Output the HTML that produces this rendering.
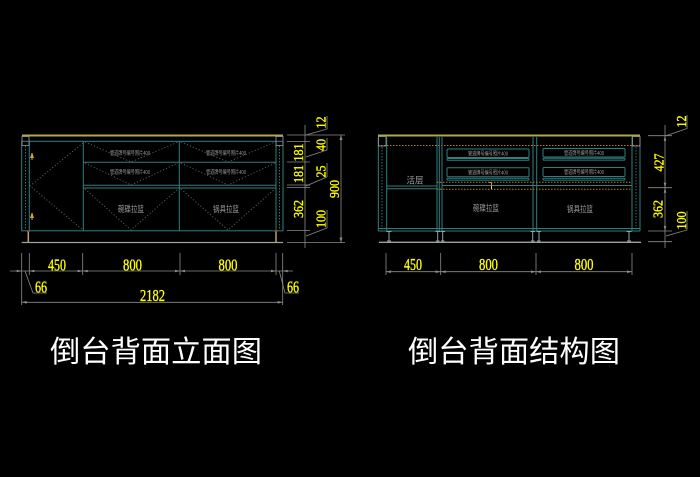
<!DOCTYPE html>
<html><head><meta charset="utf-8">
<style>
html,body{margin:0;padding:0;background:#000;}
svg{display:block;}
.t{stroke:#2f7f7f;stroke-width:1;fill:none;}
.d{stroke:#8c8c8c;stroke-width:0.8;fill:none;}
.dot{stroke:#5a5a5a;stroke-width:1;stroke-dasharray:1.2 2;fill:none;}
.or{stroke:#b07a30;stroke-width:1;stroke-dasharray:1.5 1.5;fill:none;}
.dim{font-family:"Liberation Serif",serif;fill:#ffff00;stroke:#ffff00;stroke-width:0.35;}
.lbl{font-family:"Liberation Sans","Noto Sans CJK SC",sans-serif;fill:#9a9a9a;}
.ttl{font-family:"Liberation Sans","Noto Sans CJK SC",sans-serif;fill:#fff;font-size:30px;}
</style></head>
<body>
<svg width="700" height="477" viewBox="0 0 700 477" xmlns="http://www.w3.org/2000/svg">
<rect width="700" height="477" fill="#000"/>

<!-- ================= LEFT DRAWING ================= -->
<line x1="22" y1="135.5" x2="283" y2="135.5" stroke="#b0a850" stroke-width="2"/>
<rect class="t" x="21.7" y="141.3" width="261.3" height="89.5"/>
<line class="t" x1="29.3" y1="141.3" x2="29.3" y2="230.8"/>
<line class="t" x1="276" y1="141.3" x2="276" y2="230.8"/>
<line x1="25.5" y1="146" x2="25.5" y2="230" stroke="#2f6f6f" stroke-dasharray="1.5 1.5"/>
<line x1="279.5" y1="146" x2="279.5" y2="230" stroke="#2f6f6f" stroke-dasharray="1.5 1.5"/>
<line class="t" x1="83.3" y1="141.3" x2="83.3" y2="230.8"/>
<line class="t" x1="179.3" y1="141.3" x2="179.3" y2="230.8"/>
<line class="t" x1="83.3" y1="162.3" x2="276" y2="162.3"/>
<line class="t" x1="83.3" y1="185.3" x2="276" y2="185.3"/>
<line class="t" x1="83.3" y1="188" x2="276" y2="188"/>
<rect x="22" y="136.5" width="7" height="9" fill="none" stroke="#999" stroke-width="0.8"/>
<rect x="276" y="136.5" width="7" height="9" fill="none" stroke="#999" stroke-width="0.8"/>
<polyline class="dot" points="83,143 30,186 83,230"/>
<polyline class="dot" points="85,142 131,162 178,142"/>
<polyline class="dot" points="181,142 228,162 275,142"/>
<polyline class="dot" points="85,163 131,185 178,163"/>
<polyline class="dot" points="181,163 228,185 275,163"/>
<polyline class="dot" points="85,189 131,230 178,189"/>
<polyline class="dot" points="181,189 228,230 275,189"/>
<path d="M30,158 L34,158 L33,155 L32.5,153 L31.5,153 L31,155 Z M31.5,158 L31.5,160 L32.5,160 L32.5,158" fill="#d0a820"/>
<path d="M30,218 L34,218 L33,215 L32.5,213 L31.5,213 L31,215 Z M31.5,218 L31.5,220 L32.5,220 L32.5,218" fill="#d0a820"/>
<text class="lbl" x="130" y="155" font-size="5.5" text-anchor="middle" textLength="40" lengthAdjust="spacingAndGlyphs">管道牌号编号照片400</text>
<text class="lbl" x="226" y="155" font-size="5.5" text-anchor="middle" textLength="40" lengthAdjust="spacingAndGlyphs">管道牌号编号照片400</text>
<text class="lbl" x="130" y="174" font-size="5.5" text-anchor="middle" textLength="40" lengthAdjust="spacingAndGlyphs">管道牌号编号照片400</text>
<text class="lbl" x="226" y="174" font-size="5.5" text-anchor="middle" textLength="40" lengthAdjust="spacingAndGlyphs">管道牌号编号照片400</text>
<text class="lbl" x="131" y="212" font-size="8.5" text-anchor="middle" textLength="26" lengthAdjust="spacingAndGlyphs" fill="#ddd">碗碟拉篮</text>
<text class="lbl" x="226" y="212" font-size="8.5" text-anchor="middle" textLength="26" lengthAdjust="spacingAndGlyphs" fill="#ddd">锅具拉篮</text>
<line x1="28.3" y1="231" x2="28.3" y2="242" stroke="#c8a060" stroke-width="1.5"/>
<line x1="27" y1="231.5" x2="29.5" y2="231.5" stroke="#d04020" stroke-width="1.5"/>
<line x1="276" y1="231" x2="276" y2="242" stroke="#c8a060" stroke-width="1.5"/>
<line x1="274.7" y1="231.5" x2="277.3" y2="231.5" stroke="#d04020" stroke-width="1.5"/>
<line x1="21.7" y1="242.5" x2="283" y2="242.5" stroke="#a0a0a0" stroke-width="1.3"/>

<line class="d" x1="305" y1="125" x2="305" y2="248"/>
<g class="d">
<line x1="287" y1="135" x2="345" y2="135"/>
<line x1="287" y1="141.5" x2="310" y2="141.5"/>
<line x1="287" y1="162" x2="310" y2="162"/>
<line x1="287" y1="185" x2="310" y2="185"/>
<line x1="287" y1="187.5" x2="310" y2="187.5"/>
<line x1="287" y1="230.5" x2="310" y2="230.5"/>
<line x1="287" y1="242.5" x2="345" y2="242.5"/>
<line x1="341" y1="135" x2="341" y2="242.5"/>
<polyline points="306,135 327,129 327,116"/>
<polyline points="306,157 327,150 327,138"/>
<polyline points="306,186 327,177 327,163"/>
<polyline points="306,236 327,228 327,210"/>
</g>
<g fill="#8c8c8c">
<path d="M341,135 l-1.5,5 h3 z"/><path d="M341,242.5 l-1.5,-5 h3 z"/>
</g>
<g class="dim" font-size="14" text-anchor="middle">
<text transform="translate(325.5,122.5) rotate(-90)" textLength="12" lengthAdjust="spacingAndGlyphs">12</text>
<text transform="translate(325.5,145) rotate(-90)" textLength="12" lengthAdjust="spacingAndGlyphs">40</text>
<text transform="translate(303,152.5) rotate(-90)" textLength="18" lengthAdjust="spacingAndGlyphs">181</text>
<text transform="translate(303,174) rotate(-90)" textLength="18" lengthAdjust="spacingAndGlyphs">181</text>
<text transform="translate(325.5,171.5) rotate(-90)" textLength="12" lengthAdjust="spacingAndGlyphs">25</text>
<text transform="translate(303,209) rotate(-90)" textLength="18" lengthAdjust="spacingAndGlyphs">362</text>
<text transform="translate(325.5,219) rotate(-90)" textLength="18" lengthAdjust="spacingAndGlyphs">100</text>
<text transform="translate(339,189) rotate(-90)" textLength="18" lengthAdjust="spacingAndGlyphs">900</text>
</g>

<g class="d">
<line x1="10" y1="271" x2="293" y2="271"/>
<line x1="21.7" y1="253" x2="21.7" y2="305"/>
<line x1="29.3" y1="253" x2="29.3" y2="275"/>
<line x1="82.7" y1="253" x2="82.7" y2="275"/>
<line x1="180" y1="253" x2="180" y2="275"/>
<line x1="276" y1="253" x2="276" y2="275"/>
<line x1="282.7" y1="253" x2="282.7" y2="305"/>
<line x1="21.7" y1="302.3" x2="282.7" y2="302.3"/>
<polyline points="25,271 33,293 47,293"/>
<polyline points="279.3,271 285,293 299,293"/>
</g>
<g fill="#8c8c8c">
<path d="M29.3,271 l5,-1.3 v2.6 z"/><path d="M82.7,271 l-5,-1.3 v2.6 z"/>
<path d="M82.7,271 l5,-1.3 v2.6 z"/><path d="M180,271 l-5,-1.3 v2.6 z"/>
<path d="M180,271 l5,-1.3 v2.6 z"/><path d="M276,271 l-5,-1.3 v2.6 z"/>
<path d="M21.7,302.3 l5,-1.3 v2.6 z"/><path d="M282.7,302.3 l-5,-1.3 v2.6 z"/>
<path d="M21.7,271 l-5,-1.3 v2.6 z"/><path d="M282.7,271 l5,-1.3 v2.6 z"/>
</g>
<g class="dim" font-size="17" text-anchor="middle">
<text x="57" y="270.5" textLength="18" lengthAdjust="spacingAndGlyphs">450</text>
<text x="132.5" y="270.5" textLength="19" lengthAdjust="spacingAndGlyphs">800</text>
<text x="228" y="270.5" textLength="19" lengthAdjust="spacingAndGlyphs">800</text>
<text x="41" y="292.5" textLength="12" lengthAdjust="spacingAndGlyphs">66</text>
<text x="293" y="292.5" textLength="12" lengthAdjust="spacingAndGlyphs">66</text>
<text x="152.5" y="301" textLength="25" lengthAdjust="spacingAndGlyphs">2182</text>
</g>

<!-- ================= RIGHT DRAWING ================= -->
<line x1="378" y1="135.5" x2="640" y2="135.5" stroke="#b0a850" stroke-width="2"/>
<line class="or" x1="378" y1="145.5" x2="640" y2="145.5"/>
<line class="t" x1="378.3" y1="137" x2="378.3" y2="231"/>
<line class="t" x1="386.7" y1="137" x2="386.7" y2="231"/>
<line x1="382" y1="147" x2="382" y2="230" stroke="#2f6f6f" stroke-dasharray="1.5 1.5"/>
<line class="t" x1="640" y1="137" x2="640" y2="231"/>
<line class="t" x1="632" y1="137" x2="632" y2="231"/>
<line x1="636" y1="147" x2="636" y2="230" stroke="#2f6f6f" stroke-dasharray="1.5 1.5"/>
<line class="t" x1="437" y1="137" x2="437" y2="231"/>
<line class="t" x1="439.3" y1="137" x2="439.3" y2="231"/>
<line class="t" x1="442" y1="137" x2="442" y2="231"/>
<line class="t" x1="533" y1="137" x2="533" y2="231"/>
<line class="t" x1="536.7" y1="137" x2="536.7" y2="231"/>
<line class="t" x1="378.3" y1="228.5" x2="640" y2="228.5"/>
<line class="t" x1="378.3" y1="231" x2="640" y2="231"/>
<line class="t" x1="386.7" y1="186" x2="437" y2="186"/>
<line class="t" x1="386.7" y1="188.8" x2="437" y2="188.8"/>
<line class="t" x1="442" y1="185.5" x2="632" y2="185.5"/>
<line class="or" x1="437" y1="182.3" x2="632" y2="182.3"/>
<line class="or" x1="437" y1="189.3" x2="632" y2="189.3"/>
<rect x="378.5" y="136.5" width="7.5" height="9.5" fill="none" stroke="#999" stroke-width="0.8"/>
<rect x="632.5" y="136.5" width="7.5" height="9.5" fill="none" stroke="#999" stroke-width="0.8"/>
<g class="t">
<rect x="447" y="149" width="82" height="8.5" rx="1"/>
<rect x="447" y="158.5" width="82" height="1.8" rx="0.8"/>
<rect x="447" y="167.7" width="82" height="9" rx="1"/>
<rect x="447" y="178.3" width="82" height="1.8" rx="0.8"/>
<rect x="543" y="148.5" width="82" height="8.5" rx="1"/>
<rect x="543" y="158.3" width="82" height="1.8" rx="0.8"/>
<rect x="543" y="167.5" width="82" height="9" rx="1"/>
<rect x="543" y="178.3" width="82" height="1.8" rx="0.8"/>
</g>
<text class="lbl" x="488" y="155.3" font-size="5.5" text-anchor="middle" textLength="40" lengthAdjust="spacingAndGlyphs">管道牌号编号照片400</text>
<text class="lbl" x="488" y="174.3" font-size="5.5" text-anchor="middle" textLength="40" lengthAdjust="spacingAndGlyphs">管道牌号编号照片400</text>
<text class="lbl" x="584" y="154.8" font-size="5.5" text-anchor="middle" textLength="40" lengthAdjust="spacingAndGlyphs">管道牌号编号照片400</text>
<text class="lbl" x="584" y="174" font-size="5.5" text-anchor="middle" textLength="40" lengthAdjust="spacingAndGlyphs">管道牌号编号照片400</text>
<text class="lbl" x="415" y="183.5" font-size="9" text-anchor="middle" textLength="17" lengthAdjust="spacingAndGlyphs" fill="#ddd">活层</text>
<text class="lbl" x="486" y="211" font-size="8.5" text-anchor="middle" textLength="26" lengthAdjust="spacingAndGlyphs" fill="#ddd">碗碟拉篮</text>
<text class="lbl" x="580" y="212" font-size="8.5" text-anchor="middle" textLength="26" lengthAdjust="spacingAndGlyphs" fill="#ddd">锅具拉篮</text>
<polyline points="489,182.5 491.5,182.5 491.5,189" fill="none" stroke="#e08030" stroke-width="1"/>
<line x1="491.5" y1="186" x2="491.5" y2="189" stroke="#e0e060" stroke-width="1"/>
<g stroke="#8aa8a8" stroke-width="1" fill="none">
<path d="M386.5,231.5 h5 M389,231.5 v10 M387,241 h4"/>
<path d="M435.5,231.5 h4.5 M437.7,231.5 v10 M436,241 h3.5"/>
<path d="M440.5,231.5 h4.5 M442.7,231.5 v10 M441,241 h3.5"/>
<path d="M530.5,231.5 h4.5 M532.7,231.5 v10 M531,241 h3.5"/>
<path d="M536.5,231.5 h4.5 M539,231.5 v10 M537,241 h3.5"/>
<path d="M626.5,231.5 h5 M629,231.5 v10 M627,241 h4"/>
</g>
<line x1="379" y1="242.3" x2="641" y2="242.3" stroke="#a0a0a0" stroke-width="1.3"/>

<g class="d">
<line x1="665" y1="125" x2="665" y2="248"/>
<line x1="648" y1="135.7" x2="672" y2="135.7"/>
<line x1="648" y1="187.7" x2="672" y2="187.7"/>
<line x1="648" y1="231" x2="672" y2="231"/>
<line x1="648" y1="241.7" x2="672" y2="241.7"/>
<polyline points="666,135.7 687,128.5 687,115"/>
<polyline points="666,236 687,230 687,211"/>
</g>
<g fill="#8c8c8c">
<path d="M665,135.7 l-1.3,5 h2.6 z"/><path d="M665,187.7 l-1.3,-5 h2.6 z"/>
<path d="M665,187.7 l-1.3,5 h2.6 z"/><path d="M665,231 l-1.3,-5 h2.6 z"/>
</g>
<g class="dim" font-size="14" text-anchor="middle">
<text transform="translate(686,121.5) rotate(-90)" textLength="12" lengthAdjust="spacingAndGlyphs">12</text>
<text transform="translate(663.5,162.5) rotate(-90)" textLength="18" lengthAdjust="spacingAndGlyphs">427</text>
<text transform="translate(662.5,209) rotate(-90)" textLength="18" lengthAdjust="spacingAndGlyphs">362</text>
<text transform="translate(686,220.5) rotate(-90)" textLength="18" lengthAdjust="spacingAndGlyphs">100</text>
</g>

<g class="d">
<line x1="386" y1="271.7" x2="632" y2="271.7"/>
<line x1="386" y1="253" x2="386" y2="275"/>
<line x1="440.7" y1="253" x2="440.7" y2="275"/>
<line x1="536" y1="253" x2="536" y2="275"/>
<line x1="632" y1="253" x2="632" y2="275"/>
</g>
<g fill="#8c8c8c">
<path d="M386,271.7 l5,-1.3 v2.6 z"/><path d="M440.7,271.7 l-5,-1.3 v2.6 z"/>
<path d="M440.7,271.7 l5,-1.3 v2.6 z"/><path d="M536,271.7 l-5,-1.3 v2.6 z"/>
<path d="M536,271.7 l5,-1.3 v2.6 z"/><path d="M632,271.7 l-5,-1.3 v2.6 z"/>
</g>
<g class="dim" font-size="17" text-anchor="middle">
<text x="413" y="270" textLength="18" lengthAdjust="spacingAndGlyphs">450</text>
<text x="488.5" y="270" textLength="19" lengthAdjust="spacingAndGlyphs">800</text>
<text x="584" y="270" textLength="19" lengthAdjust="spacingAndGlyphs">800</text>
</g>

<text class="ttl" x="50" y="362" textLength="212" lengthAdjust="spacingAndGlyphs">倒台背面立面图</text>
<text class="ttl" x="408" y="362" textLength="212" lengthAdjust="spacingAndGlyphs">倒台背面结构图</text>
</svg>
</body></html>
